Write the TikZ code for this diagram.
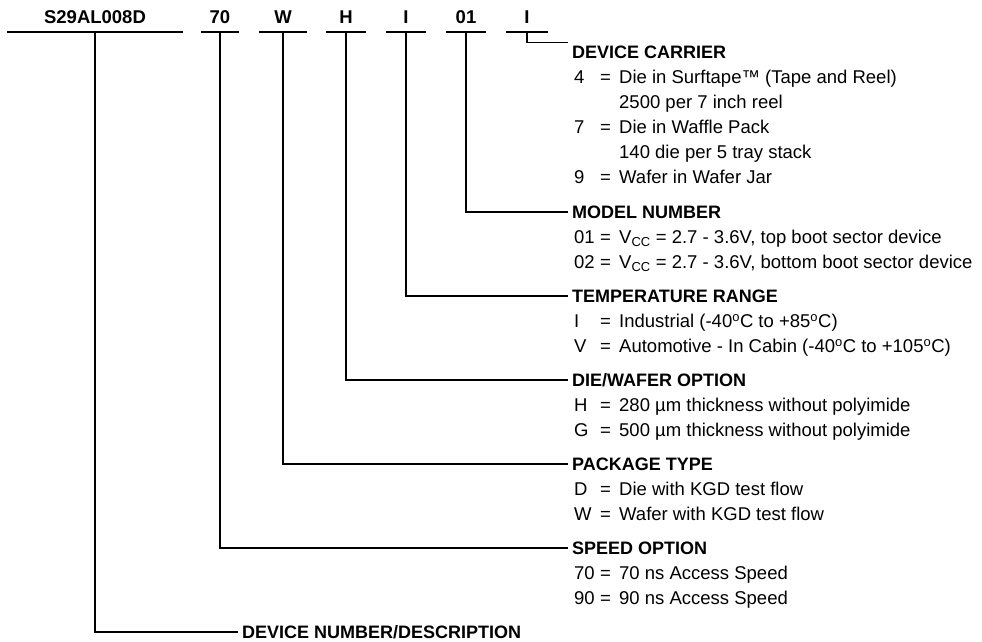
\documentclass[tikz,border=0pt]{standalone}
\usepackage{fontspec}
\setmainfont{Liberation Sans}
\usepackage{tikz}

\tikzset{
  lead/.style={black, line width=1.7pt},
  code/.style={font=\fontsize{18.5}{22}\selectfont\bfseries, inner sep=0pt,
    text depth=8.5pt, anchor=south},
  head/.style={font=\fontsize{18}{22}\selectfont\bfseries, inner xsep=4pt,
    inner ysep=3pt, text height=12.9pt, text depth=0pt, anchor=west},
  opt/.style={font=\fontsize{18.5}{22}\selectfont, inner sep=0pt, anchor=base west}
}
\newcommand{\optline}[2]{\makebox[26pt][l]{#1}\makebox[19pt][l]{=}#2}
\newcommand{\optmore}[1]{\hspace*{45pt}#1}

\begin{document}
\begin{tikzpicture}[x=1pt, y=-1pt]
  \useasboundingbox (0,0) rectangle (982,641);
  % ordering code fields
  \node[code, minimum width=175pt] (dev) at (95,32) {S29AL008D};
  \node[code, minimum width=38pt] (spd) at (220,32) {70};
  \node[code, minimum width=48pt] (pkg) at (283,32) {W};
  \node[code, minimum width=40pt] (die) at (346,32) {H};
  \node[code, minimum width=40pt] (tmp) at (406,32) {I};
  \node[code, minimum width=40pt] (mdl) at (466,32) {01};
  \node[code, minimum width=42pt] (car) at (527,32) {I};
  \foreach \f in {dev,spd,pkg,die,tmp,mdl,car}
    \draw[lead] (\f.south west) -- (\f.south east);

  % device carrier
  \node[head] (hcar) at (568,52) {DEVICE CARRIER};
  \draw[lead] (car.south) |- (hcar.north west);
  \node[opt] (car4) at (574,83.5) {\optline{4}{Die in Surftape™ (Tape and Reel)}};
  \node[opt] (car4b) at (574,108.5) {\optmore{2500 per 7 inch reel}};
  \node[opt] (car7) at (574,133.5) {\optline{7}{Die in Waffle Pack}};
  \node[opt] (car7b) at (574,158.5) {\optmore{140 die per 5 tray stack}};
  \node[opt] (car9) at (574,183.5) {\optline{9}{Wafer in Wafer Jar}};

  % model number
  \node[head] (hmdl) at (568,212) {MODEL NUMBER};
  \draw[lead] (mdl.south) |- (hmdl.west);
  \node[opt] (mdl01) at (574,243.5) %
    {\optline{01}{V\textsubscript{CC} = 2.7 - 3.6V, top boot sector device}};
  \node[opt] (mdl02) at (574,268.5) %
    {\optline{02}{V\textsubscript{CC} = 2.7 - 3.6V, bottom boot sector device}};

  % temperature range
  \node[head] (htmp) at (568,296) {TEMPERATURE RANGE};
  \draw[lead] (tmp.south) |- (htmp.west);
  \node[opt] (tmpI) at (574,327.5) %
    {\optline{I}{Industrial (-40\textsuperscript{o}C to +85\textsuperscript{o}C)}};
  \node[opt] (tmpV) at (574,352.5) %
    {\optline{V}{Automotive - In Cabin (-40\textsuperscript{o}C to +105\textsuperscript{o}C)}};

  % die/wafer option
  \node[head] (hdie) at (568,380) {DIE/WAFER OPTION};
  \draw[lead] (die.south) |- (hdie.west);
  \node[opt] (dieH) at (574,411.5) {\optline{H}{280 µm thickness without polyimide}};
  \node[opt] (dieG) at (574,436.5) {\optline{G}{500 µm thickness without polyimide}};

  % package type
  \node[head] (hpkg) at (568,464) {PACKAGE TYPE};
  \draw[lead] (pkg.south) |- (hpkg.west);
  \node[opt] (pkgD) at (574,495.5) {\optline{D}{Die with KGD test flow}};
  \node[opt] (pkgW) at (574,520.5) {\optline{W}{Wafer with KGD test flow}};

  % speed option
  \node[head] (hspd) at (568,548) {SPEED OPTION};
  \draw[lead] (spd.south) |- (hspd.west);
  \node[opt] (spd70) at (574,579.5) {\optline{70}{70 ns Access Speed}};
  \node[opt] (spd90) at (574,604.5) {\optline{90}{90 ns Access Speed}};

  % device number
  \node[head] (hdev) at (238,632) {DEVICE NUMBER/DESCRIPTION};
  \draw[lead] (dev.south) |- (hdev.west);
\end{tikzpicture}
\end{document}
